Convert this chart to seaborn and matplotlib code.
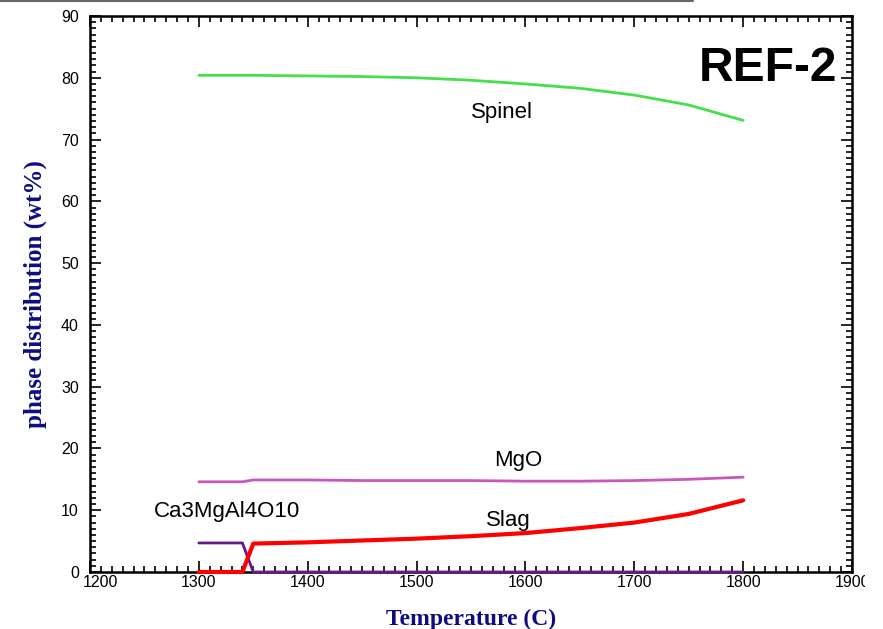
import matplotlib
matplotlib.use("Agg")
import matplotlib.pyplot as plt
import seaborn as sns
import pandas as pd
from matplotlib.lines import Line2D
from matplotlib.ticker import MultipleLocator
from matplotlib.transforms import Bbox, TransformedBbox, ScaledTranslation

sns.set_style("ticks")
plt.rcParams['font.family'] = ['Liberation Sans', 'DejaVu Sans']

# ---- data ----
temps_spinel = [1300, 1350, 1400, 1450, 1500, 1550, 1600, 1650, 1700, 1750, 1800]
spinel = [80.4, 80.4, 80.3, 80.2, 80.0, 79.6, 79.0, 78.3, 77.2, 75.6, 73.1]

temps_phase = [1300, 1340, 1350, 1400, 1450, 1500, 1550, 1600, 1650, 1700, 1750, 1800]
mgo = [14.6, 14.6, 14.9, 14.9, 14.8, 14.8, 14.8, 14.7, 14.7, 14.8, 15.0, 15.35]
slag = [0.0, 0.0, 4.6, 4.8, 5.1, 5.4, 5.8, 6.3, 7.1, 8.0, 9.4, 11.6]
ca3 = [4.7, 4.7, 0.0, 0.0, 0.0, 0.0, 0.0, 0.0, 0.0, 0.0, 0.0, 0.0]

labels = ["Spinel", "MgO", "Slag", "Ca3MgAl4O10"]
label_pos_x = [1578, 1593, 1584, 1326]
label_pos_y = [74.4, 18.1, 8.4, 9.8]

x_ticks = [1200, 1300, 1400, 1500, 1600, 1700, 1800, 1900]
y_ticks = [0, 10, 20, 30, 40, 50, 60, 70, 80, 90]

fig = plt.figure(figsize=(8.83, 6.29), dpi=100)
ax = fig.add_axes([90 / 883, 1 - 572 / 629, (852 - 90) / 883, (572 - 16) / 629])

df_sp = pd.DataFrame({"T": temps_spinel, "v": spinel})
df_ph = pd.DataFrame({"T": temps_phase, "mgo": mgo, "slag": slag, "ca3": ca3})

sns.lineplot(data=df_sp, x="T", y="v", ax=ax, color="#44e04a", linewidth=2.0, clip_on=False, zorder=5)
sns.lineplot(data=df_ph, x="T", y="mgo", ax=ax, color="#c957bd", linewidth=2.0, clip_on=False, zorder=5)
sns.lineplot(data=df_ph, x="T", y="ca3", ax=ax, color="#66178a", linewidth=2.0, clip_on=False, zorder=5)
sns.lineplot(data=df_ph, x="T", y="slag", ax=ax, color="#ff0000", linewidth=3.0, clip_on=False, zorder=6)

ax.set_xlim(1200, 1900)
ax.set_ylim(0, 90)
ax.set_xticks(x_ticks)
ax.set_yticks(y_ticks)
ax.set_xticklabels([str(t) for t in x_ticks])
ax.set_yticklabels([str(t) for t in y_ticks])
ax.xaxis.set_minor_locator(MultipleLocator(10))
ax.yaxis.set_minor_locator(MultipleLocator(1))
ax.tick_params(which="both", direction="in", top=True, right=True, colors="black",
               labelsize=11.5, width=1.2)
ax.tick_params(which="major", length=8)
ax.tick_params(which="minor", length=4)
ax.tick_params(axis="y", which="major", pad=8)
ax.tick_params(axis="x", which="major", pad=2)
for s in ax.spines.values():
    s.set_linewidth(1.8)
    s.set_color("black")

# shift the first x label right (as in reference), clip the last one at the image edge
xlabels = ax.get_xticklabels()
xlabels[0].set_transform(xlabels[0].get_transform() + ScaledTranslation(10 / 100, 0, fig.dpi_scale_trans))
clipbox = TransformedBbox(Bbox([[0, 0], [865 / 883, 1]]), fig.transFigure)
xlabels[-1].set_clip_box(clipbox)
xlabels[-1].set_clip_on(True)

ax.set_xlabel("Temperature (C)", family=["Liberation Serif", "DejaVu Serif"], fontweight="bold",
              color="#0d0d80", fontsize=17, labelpad=14)
ax.set_ylabel("phase distribution (wt%)", family=["Liberation Serif", "DejaVu Serif"], fontweight="bold",
              color="#0d0d80", fontsize=18, labelpad=10)

for lab, lx, ly in zip(labels, label_pos_x, label_pos_y):
    ax.text(lx, ly, lab, ha="center", va="center", fontsize=16, color="black")

ax.text(0.98, 0.905, "REF-2", transform=ax.transAxes, ha="right", va="center",
        fontsize=34.5, fontweight="bold", color="black")

fig.add_artist(Line2D([0, 693 / 883], [1 - 1 / 629, 1 - 1 / 629], color="#666666", linewidth=1.5))

fig.savefig("out.png", dpi=100)
